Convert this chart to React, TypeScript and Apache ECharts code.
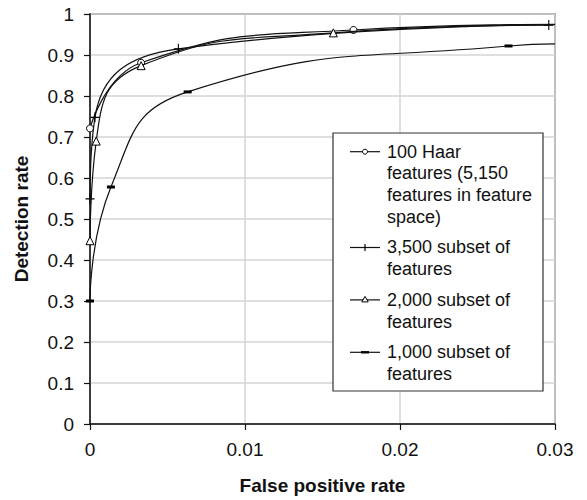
import React, { useEffect, useRef } from "react";
import * as echarts from "echarts";

// ---- data ----
const seriesNames = [
  "100 Haar\nfeatures (5,150\nfeatures in feature\nspace)",
  "3,500 subset of\nfeatures",
  "2,000 subset of\nfeatures",
  "1,000 subset of\nfeatures",
];
// [false positive rate, detection rate]
const haar100: number[][] = [
  [0, 0.721],
  [0.0033, 0.881],
  [0.017, 0.961],
];
const haar100Tail: number[][] = [[0.03, 0.975]];
const subset3500: number[][] = [
  [0, 0.549],
  [0.00032, 0.748],
  [0.0057, 0.915],
  [0.0296, 0.973],
];
const subset3500Tail: number[][] = [];
const subset2000: number[][] = [
  [0, 0.447],
  [0.0004, 0.69],
  [0.0033, 0.874],
  [0.0157, 0.954],
];
const subset2000Tail: number[][] = [[0.03, 0.974]];
const subset1000: number[][] = [
  [0, 0.3],
  [0.00135, 0.578],
  [0.0063, 0.81],
  [0.027, 0.922],
];
const subset1000Tail: number[][] = [[0.03, 0.927]];

const xTicks = { min: 0, max: 0.03, interval: 0.01 };
const yTicks = { min: 0, max: 1, interval: 0.1 };
const xTitle = "False positive rate";
const yTitle = "Detection rate";

const FONT = "'Liberation Sans', Arial, Helvetica, sans-serif";
const PLUS_PATH = "path://M4.4,0 L5.6,0 L5.6,10 L4.4,10 Z M0,4.4 L10,4.4 L10,5.6 L0,5.6 Z";

type MarkerSpec = {
  symbol: string;
  symbolSize: number | number[];
  fill: string;
};

const markers: MarkerSpec[] = [
  { symbol: "circle", symbolSize: 7, fill: "#fff" },
  { symbol: PLUS_PATH, symbolSize: [9, 10], fill: "#000" },
  { symbol: "triangle", symbolSize: 8, fill: "#fff" },
  { symbol: "rect", symbolSize: [8, 3], fill: "#000" },
];

function buildData(main: number[][], tail: number[][]) {
  return [
    ...main.map((p) => ({ value: p })),
    ...tail.map((p) => ({ value: p, symbol: "none" })),
  ];
}

export default function App() {
  const ref = useRef<HTMLDivElement>(null);

  useEffect(() => {
    if (!ref.current) return;
    const chart = echarts.init(ref.current, undefined, { renderer: "svg" });

    const datasets = [
      buildData(haar100, haar100Tail),
      buildData(subset3500, subset3500Tail),
      buildData(subset2000, subset2000Tail),
      buildData(subset1000, subset1000Tail),
    ];

    const series = datasets.map((data, i) => {
      const m = markers[i];
      return {
        type: "line",
        name: seriesNames[i],
        data,
        smooth: 0.5,
        showSymbol: true,
        showAllSymbol: true,
        symbol: m.symbol,
        symbolSize: m.symbolSize,
        lineStyle: { color: "#111", width: 1.2 },
        itemStyle: {
          color: m.fill,
          borderColor: "#000",
          borderWidth: m.fill === "#fff" ? 1 : 0,
        },
        emphasis: { disabled: true },
        z: 3 + i,
      };
    });

    // ---- legend drawn as graphic ----
    const legendLeft = 333;
    const legendTop = 133;
    const legendW = 210;
    const legendH = 258;
    const lineH = 21.7;
    const itemGap = 9;
    const graphics: any[] = [
      {
        type: "rect",
        shape: { x: legendLeft, y: legendTop, width: legendW, height: legendH },
        style: { fill: "#fff", stroke: "#333", lineWidth: 1.2 },
        z: 100,
      },
    ];
    let cy = 151.7;
    seriesNames.forEach((name, i) => {
      const nLines = name.split("\n").length;
      const x1 = 350;
      const x2 = 380;
      const mx = (x1 + x2) / 2;
      graphics.push({
        type: "line",
        shape: { x1, y1: cy, x2, y2: cy },
        style: { stroke: "#111", lineWidth: 1.2 },
        z: 101,
      });
      if (i === 0) {
        graphics.push({
          type: "circle",
          shape: { cx: mx, cy, r: 2.5 },
          style: { fill: "#fff", stroke: "#000", lineWidth: 1 },
          z: 102,
        });
      } else if (i === 1) {
        graphics.push({
          type: "line",
          shape: { x1: mx, y1: cy - 3.5, x2: mx, y2: cy + 3.5 },
          style: { stroke: "#000", lineWidth: 1.2 },
          z: 102,
        });
      } else if (i === 2) {
        graphics.push({
          type: "polygon",
          shape: { points: [[mx, cy - 3.5], [mx + 3.2, cy + 2], [mx - 3.2, cy + 2]] },
          style: { fill: "#fff", stroke: "#000", lineWidth: 1 },
          z: 102,
        });
      } else {
        graphics.push({
          type: "rect",
          shape: { x: mx - 4, y: cy - 1.2, width: 8, height: 2.4 },
          style: { fill: "#000" },
          z: 102,
        });
      }
      graphics.push({
        type: "text",
        x: 387,
        y: cy - lineH / 2,
        style: {
          text: name,
          fontFamily: FONT,
          fontSize: 18,
          lineHeight: lineH,
          fill: "#111",
          verticalAlign: "top",
          align: "left",
        },
        z: 102,
      });
      cy += nLines * lineH + itemGap;
    });

    chart.setOption({
      animation: false,
      backgroundColor: "#fff",
      grid: {
        left: 90,
        right: 32,
        top: 14,
        bottom: 74,
        show: true,
        borderColor: "#555",
        borderWidth: 1.5,
        backgroundColor: "transparent",
      },
      xAxis: {
        type: "value",
        min: xTicks.min,
        max: xTicks.max,
        interval: xTicks.interval,
        name: xTitle,
        nameLocation: "middle",
        nameGap: 52,
        nameTextStyle: { fontFamily: FONT, fontSize: 19, fontWeight: "bold", color: "#111" },
        axisLine: { show: true, onZero: false, lineStyle: { color: "#111", width: 1.5 } },
        axisTick: { show: true, length: 6, lineStyle: { color: "#111", width: 1.2 } },
        axisLabel: { fontFamily: FONT, fontSize: 19, color: "#111", margin: 16 },
        splitLine: { show: true, lineStyle: { color: "#d4d4d4", width: 1.5 } },
      },
      yAxis: {
        type: "value",
        min: yTicks.min,
        max: yTicks.max,
        interval: yTicks.interval,
        name: yTitle,
        nameLocation: "middle",
        nameGap: 59,
        nameTextStyle: { fontFamily: FONT, fontSize: 19, fontWeight: "bold", color: "#111" },
        axisLine: { show: true, onZero: false, lineStyle: { color: "#111", width: 1.5 } },
        axisTick: { show: true, length: 6, lineStyle: { color: "#111", width: 1.2 } },
        axisLabel: { fontFamily: FONT, fontSize: 19, color: "#111", margin: 16 },
        splitLine: { show: true, lineStyle: { color: "#d4d4d4", width: 1.5 } },
      },
      series,
      graphic: graphics,
    });

    return () => chart.dispose();
  }, []);

  return (
    <div
      ref={ref}
      style={{ position: "fixed", left: 0, top: 0, width: 587, height: 500, background: "#fff" }}
    />
  );
}
